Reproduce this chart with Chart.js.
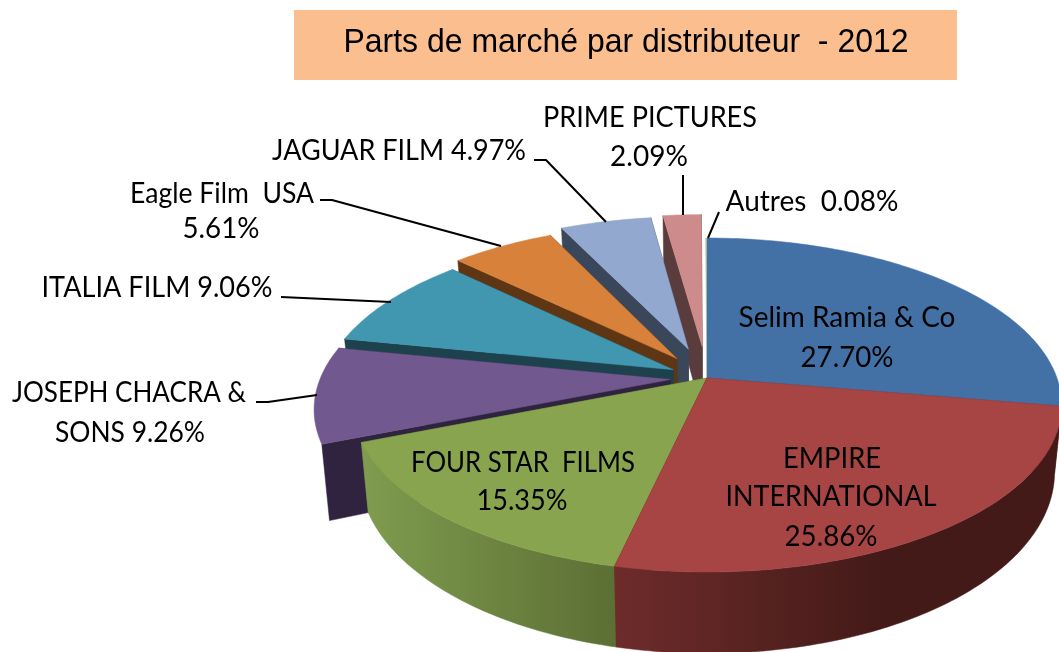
<!DOCTYPE html>
<html>
<head>
<meta charset="utf-8">
<style>html,body{margin:0;padding:0;background:#fff}canvas{display:block}</style>
<script src="https://cdn.jsdelivr.net/npm/chart.js@4"></script>
</head>
<body>
<canvas id="c" width="1059" height="652"></canvas>
<script>
const titleText = 'Parts de marché par distributeur  - 2012';
const categories = ['Selim Ramia & Co','EMPIRE INTERNATIONAL','FOUR STAR FILMS','JOSEPH CHACRA & SONS','ITALIA FILM','Eagle Film USA','JAGUAR FILM','PRIME PICTURES','Autres'];
const shares = [27.70,25.86,15.35,9.26,9.06,5.61,4.97,2.09,0.08];
const explode = [0,0,0,0.105,0.11,0.15,0.19,0.20,0];
const topColors = ['#4371A6','#A64544','#88A44E','#71588F','#4097AF','#D8813B','#93A8CF','#CD8C8B','#B9D3A0'];
const sideColors = ['#2A4766','#5E2827','#55682F','#2F2340','#1D424E','#5E3614','#3A4659','#5A3C3C','#6B7F55'];
const wallFrom = ['#2A4766','#6E2C2B','#7F9C4F','#2F2340','#1D424E','#5E3614','#3A4659','#5A3C3C','#6B7F55'];
const wallTo = ['#2A4766','#431A18','#5C6F34','#2F2340','#1D424E','#5E3614','#3A4659','#5A3C3C','#6B7F55'];
const paintOrder = [8,7,6,5,4,3,0,2,1];

// text layout: [text, centre x, baseline y, width]
const labelLayout = [
  ['Selim Ramia & Co',847,327,221],['27.70%',847,367,93],
  ['EMPIRE',832,468,98],['INTERNATIONAL',831,506,211],['25.86%',831,546,93],
  ['FOUR STAR  FILMS',523,472,224],['15.35%',522,510,91],
  ['JOSEPH CHACRA &',129,402,234],['SONS 9.26%',130,442,150],
  ['ITALIA FILM 9.06%',157,297,231],
  ['Eagle Film  USA',222,203,184],['5.61%',221,238,77],
  ['JAGUAR FILM 4.97%',399,160,254],
  ['PRIME PICTURES',650,127,214],['2.09%',649,166,78],
  ['Autres  0.08%',812,211,174]
];
const leaders = [
  [[256,402],[268,402],[317,395]],
  [[281,297],[391,302]],
  [[320,200],[332,200],[501,246]],
  [[534,160],[546,160],[606,222]],
  [[683,175],[683,215]],
  [[719,212],[708,238]]
];

const CX=707, CY=405, RY=167, K=350, A=-27/167, DEPTH=67, SX=0.98, SY=1.086;
function topPt(u,v){const w=1+A*v;return [CX+K*u/w, CY+(RY*v-27)/w];}
function botPt(u,v,extra){const p=topPt(u,v);return [CX+SX*(p[0]-CX), CY+SY*(p[1]-CY)+DEPTH+extra];}

function poly(ctx,pts,fill){
  ctx.beginPath();
  pts.forEach((p,i)=>i?ctx.lineTo(p[0],p[1]):ctx.moveTo(p[0],p[1]));
  ctx.closePath();
  ctx.fillStyle=fill;ctx.fill();
  ctx.strokeStyle=fill;ctx.lineWidth=0.5;ctx.stroke();
}

const pie3d = {
  id:'pie3d',
  beforeDraw(chart){
    const ctx=chart.ctx;
    ctx.fillStyle='#FBBF8F';
    ctx.fillRect(294,10,663,70);
  },
  beforeDatasetsDraw(chart){
    const ctx=chart.ctx, arcs=chart.getDatasetMeta(0).data;
    paintOrder.forEach(i=>{
      const a=arcs[i], s=a.startAngle, e=a.endAngle, m=(s+e)/2, d=explode[i];
      const ou=d*Math.cos(m), ov=d*Math.sin(m);
      const n=Math.max(2,Math.ceil((e-s)*60));
      const extra=d>0?6:0;
      const rim=[];
      for(let k=0;k<=n;k++){const t=s+(e-s)*k/n;rim.push([ou+Math.cos(t),ov+Math.sin(t)]);}
      const rimTop=rim.map(p=>topPt(p[0],p[1])), rimBot=rim.map(p=>botPt(p[0],p[1],extra));
      const at=topPt(ou,ov), ab=botPt(ou,ov,extra);
      if(i!==0 && i!==8){
        poly(ctx,[at,rimTop[0],rimBot[0],ab],sideColors[i]);
        poly(ctx,[at,rimTop[n],rimBot[n],ab],sideColors[i]);
      }
      if(i===1 || i===2){
        const xs=rimTop.map(p=>p[0]);
        const g=ctx.createLinearGradient(Math.min(...xs),0,Math.max(...xs),0);
        const flip=i===1;
        g.addColorStop(0,wallFrom[i]);
        g.addColorStop(flip?0.6:1,wallTo[i]);
        if(flip)g.addColorStop(1,wallTo[i]);
        poly(ctx,rimTop.concat(rimBot.slice().reverse()),g);
      }
      poly(ctx,[at].concat(rimTop),a.options.backgroundColor);
    });
    return false;
  },
  afterDraw(chart){
    const ctx=chart.ctx;
    ctx.save();
    ctx.strokeStyle='#000';ctx.lineWidth=2;ctx.lineJoin='round';
    leaders.forEach(l=>{
      ctx.beginPath();
      l.forEach((p,i)=>i?ctx.lineTo(p[0],p[1]):ctx.moveTo(p[0],p[1]));
      ctx.stroke();
    });
    ctx.fillStyle='#000';ctx.textAlign='center';ctx.textBaseline='alphabetic';
    ctx.font='28px Lato';
    labelLayout.forEach(l=>ctx.fillText(l[0],l[1],l[2],l[3]));
    ctx.font='33px "Liberation Sans"';
    ctx.fillText(titleText,626,52,565);
    ctx.restore();
  }
};

new Chart(document.getElementById('c'),{
  type:'pie',
  data:{labels:categories,datasets:[{data:shares,backgroundColor:topColors,borderWidth:0}]},
  options:{
    responsive:false,animation:false,
    plugins:{legend:{display:false},tooltip:{enabled:false},title:{display:false}}
  },
  plugins:[pie3d]
});
</script>
</body>
</html>
